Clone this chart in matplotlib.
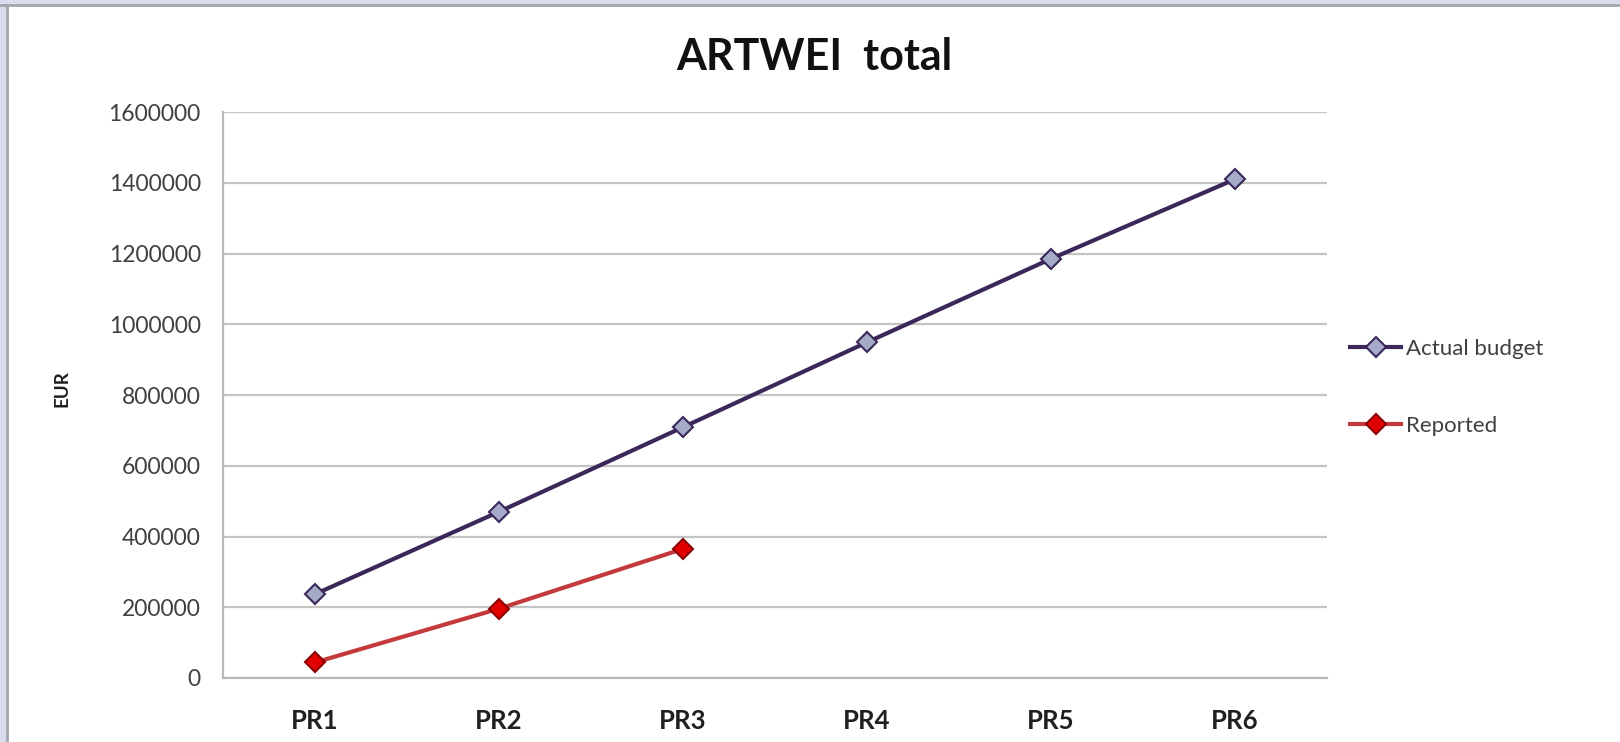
import matplotlib.pyplot as plt
from matplotlib.patches import Rectangle
from matplotlib.lines import Line2D

# data
periods = ["PR1", "PR2", "PR3", "PR4", "PR5", "PR6"]
actual_budget = [237000, 470000, 709000, 949000, 1185000, 1410000]
reported = [44000, 196000, 365000]
y_ticks = [0, 200000, 400000, 600000, 800000, 1000000, 1200000, 1400000, 1600000]

plt.rcParams["font.family"] = ["Lato", "DejaVu Sans"]

W, H = 1620, 742
fig = plt.figure(figsize=(W / 100, H / 100), dpi=100)
ax = fig.add_axes([223 / W, 1 - 678 / H, (1327 - 223) / W, (678 - 112) / H])

x_all = list(range(len(periods)))
ax.plot(x_all, actual_budget, color="#3b2858", lw=3, marker="D", ms=10.5,
        mfc="#a3abc8", mec="#3b2858", mew=1.5, label="Actual budget", zorder=3)
ax.plot(x_all[:len(reported)], reported, color="#c43a3c", lw=3, marker="D", ms=10.5,
        mfc="#e30000", mec="#8a0000", mew=1.5, label="Reported", zorder=3)

ax.set_xlim(-0.5, len(periods) - 0.5)
ax.set_ylim(0, 1600000)
ax.set_yticks(y_ticks)
ax.set_yticklabels([str(v) for v in y_ticks], fontsize=16.5, color="#404040")
ax.set_xticks(x_all)
ax.set_xticklabels(periods, fontsize=18.5, fontweight="bold", color="#202020")
ax.tick_params(length=0)
ax.tick_params(axis="y", pad=16)
ax.tick_params(axis="x", pad=22)
ax.grid(axis="y", color="#c4c4c4", lw=1.6)
ax.set_axisbelow(True)
for side in ["top", "right"]:
    ax.spines[side].set_visible(False)
for side in ["left", "bottom"]:
    ax.spines[side].set_color("#b8b8b8")
    ax.spines[side].set_linewidth(1.6)

fig.text(62 / W, 1 - 389 / H, "EUR", rotation=90, fontsize=13.5, fontweight="bold",
         ha="center", va="center", color="#202020")
fig.text(814 / W, 1 - 57 / H, "ARTWEI  total", fontsize=31, fontweight="bold",
         ha="center", va="center", color="#111111")

ax.legend(loc="upper left", bbox_to_anchor=(1330 / W, 1 - 319 / H),
          bbox_transform=fig.transFigure, frameon=False, fontsize=16,
          handlelength=2.3, handletextpad=0.2, labelspacing=2.55,
          labelcolor="#404040")

# window border of the screenshot
fig.add_artist(Rectangle((0, 1 - 4 / H), 1, 4 / H, transform=fig.transFigure,
                         color="#dadded", lw=0))
fig.add_artist(Rectangle((0, 0), 6 / W, 1, transform=fig.transFigure,
                         color="#dadded", lw=0))
fig.add_artist(Line2D([0, 1], [1 - 5 / H, 1 - 5 / H], transform=fig.transFigure,
                      color="#a4a4ac", lw=2))
fig.add_artist(Line2D([7 / W, 7 / W], [0, 1 - 5 / H], transform=fig.transFigure,
                      color="#a4a4ac", lw=2))

fig.savefig("out.png", dpi=100)
